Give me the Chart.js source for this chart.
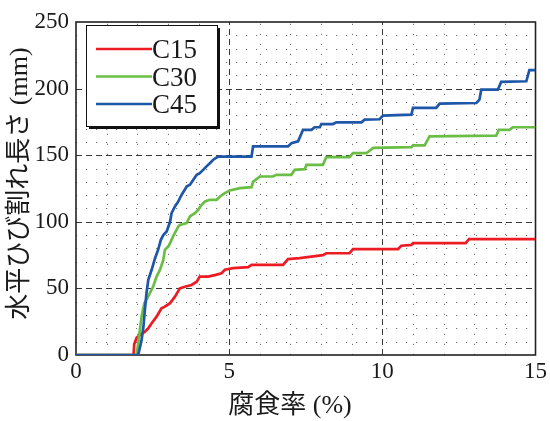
<!DOCTYPE html>
<html>
<head>
<meta charset="utf-8">
<script src="https://cdn.jsdelivr.net/npm/chart.js@4/dist/chart.umd.min.js"></script>
<style>
  html, body { margin: 0; padding: 0; background: #fff; }
  #wrap { width: 550px; height: 421px; }
</style>
</head>
<body>
<div id="wrap"><canvas id="c" width="550" height="421"></canvas></div>
<script>
// Horizontal crack length vs. corrosion rate for three concrete grades
const seriesNames = ['C15', 'C30', 'C45'];
const seriesColors = ['rgb(237,28,36)', 'rgb(106,190,69)', 'rgb(30,86,168)'];

const c15X = [0, 1.88, 1.9, 1.98, 2.09, 2.25, 2.36, 2.47, 2.63, 2.79, 2.9, 3.07, 3.23, 3.39, 3.55, 3.77, 3.94, 4.04, 4.31, 4.53, 4.75, 4.86, 5.13, 5.62, 5.73, 6.76, 6.92, 7.3, 8.06, 8.17, 8.93, 9.04, 10.51, 10.62, 10.95, 11.0, 12.72, 12.83, 15];
const c15Y = [0, 0, 8, 13, 15, 17.5, 20, 23.8, 28.8, 35, 36.3, 38.9, 43.8, 50, 51.3, 52.6, 55, 58.9, 58.9, 60, 61.4, 64, 65.2, 66, 67.7, 67.7, 72, 72.7, 75, 76.4, 76.4, 79.5, 79.5, 82, 82.7, 84, 84, 87, 87];

const c30X = [0, 1.98, 2.03, 2.14, 2.23, 2.3, 2.41, 2.52, 2.63, 2.74, 2.85, 2.9, 3.01, 3.07, 3.17, 3.34, 3.39, 3.61, 3.72, 3.88, 3.99, 4.1, 4.21, 4.37, 4.59, 4.7, 4.86, 5.02, 5.35, 5.73, 5.78, 6.0, 6.43, 6.54, 7.03, 7.14, 7.47, 7.52, 8.06, 8.17, 8.93, 9.04, 9.48, 9.7, 10.95, 11.0, 11.38, 11.54, 13.72, 13.8, 14.15, 14.26, 15];
const c30Y = [0, 0, 8.8, 28.8, 38.8, 41.4, 46.4, 51.4, 58.9, 63.9, 71.4, 78.9, 81.4, 84, 89, 96.5, 97.7, 99, 104, 106.5, 109, 112.8, 115.3, 116.5, 116.5, 119, 121.5, 123.5, 125.3, 126, 130, 134, 134, 135.3, 135.3, 139, 139.5, 142.8, 142.8, 148.5, 148.5, 151.5, 151.5, 155.5, 156, 157.4, 157.4, 164.1, 164.7, 169, 169, 171, 171];

const c45X = [0, 2.03, 2.14, 2.2, 2.25, 2.3, 2.36, 2.47, 2.58, 2.68, 2.77, 2.85, 2.96, 3.07, 3.12, 3.23, 3.34, 3.45, 3.55, 3.61, 3.72, 3.83, 3.94, 4.04, 4.15, 4.26, 4.37, 4.48, 4.64, 5.73, 5.78, 6.92, 7.03, 7.25, 7.41, 7.69, 7.79, 7.96, 8.01, 8.39, 8.5, 9.32, 9.42, 9.91, 10.02, 10.95, 11.0, 11.76, 11.87, 13.07, 13.17, 13.23, 13.77, 13.88, 14.7, 14.8, 15];
const c45Y = [0, 0, 11, 21, 34, 46.4, 56.4, 64, 72.7, 79, 86.5, 90, 92.7, 100, 106.5, 111.5, 115.3, 120.3, 124, 126.5, 127.8, 131.6, 135.3, 136.5, 139, 141.6, 144, 146.6, 149, 149, 156.6, 156.6, 159, 160.4, 169, 169, 171, 171, 173.4, 173.4, 174.7, 174.7, 176.7, 177, 179.7, 180.5, 185.5, 185.5, 188.7, 189.2, 191.7, 199.2, 199.2, 205, 205.5, 213.8, 213.8];

const xTicks = [0, 5, 10, 15];
const yTicks = [0, 50, 100, 150, 200, 250];
const xTitle = '腐食率 (%)';
const yTitle = '水平ひび割れ長さ (mm)';

const serif = "'Liberation Serif', 'Times New Roman', 'Noto Sans CJK JP', serif";
const pairs = (xs, ys) => xs.map((x, i) => ({ x, y: ys[i] }));
const seriesX = [c15X, c30X, c45X];
const seriesY = [c15Y, c30Y, c45Y];

const datasets = seriesNames.map((name, i) => ({
  label: name,
  data: pairs(seriesX[i], seriesY[i]),
  borderColor: seriesColors[i],
  backgroundColor: seriesColors[i],
  borderWidth: 2.7,
  pointRadius: 0,
  tension: 0,
  fill: false,
  order: seriesNames.length - i
}));

// Dotted minor grid, dashed major grid, axes box, legend and axis titles
const gridPlugin = {
  id: 'boxGrid',
  beforeDatasetsDraw(chart) {
    const { ctx, chartArea: a, scales: { x, y } } = chart;
    ctx.save();
    ctx.lineWidth = 1;
    // minor dotted lines
    ctx.strokeStyle = 'rgba(40,40,40,0.65)';
    ctx.setLineDash([1.2, 8.8]);
    for (let v = 1; v < 15; v++) {
      if (v % 5 === 0) continue;
      const px = Math.round(x.getPixelForValue(v)) + 0.5;
      ctx.beginPath(); ctx.moveTo(px, a.bottom); ctx.lineTo(px, a.top); ctx.stroke();
    }
    for (let v = 10; v < 250; v += 10) {
      if (v % 50 === 0) continue;
      const py = Math.round(y.getPixelForValue(v)) + 0.5;
      ctx.beginPath(); ctx.moveTo(a.left, py); ctx.lineTo(a.right, py); ctx.stroke();
    }
    // major dashed lines
    ctx.strokeStyle = 'rgba(35,35,35,0.9)';
    ctx.setLineDash([6, 4]);
    xTicks.slice(1, -1).forEach(v => {
      const px = Math.round(x.getPixelForValue(v)) + 0.5;
      ctx.beginPath(); ctx.moveTo(px, a.bottom); ctx.lineTo(px, a.top); ctx.stroke();
    });
    yTicks.slice(1, -1).forEach(v => {
      const py = Math.round(y.getPixelForValue(v)) + 0.5;
      ctx.beginPath(); ctx.moveTo(a.left, py); ctx.lineTo(a.right, py); ctx.stroke();
    });
    // box
    ctx.setLineDash([]);
    ctx.strokeStyle = '#222';
    ctx.lineWidth = 1.6;
    ctx.strokeRect(a.left, a.top, a.right - a.left, a.bottom - a.top);
    ctx.restore();
  },
  afterDatasetsDraw(chart) {
    // legend box with drop shadow in the upper-left corner of the plot
    const { ctx, chartArea: a } = chart;
    const bx = a.left + 10, by = a.top + 3, bw = 131, bh = 101;
    ctx.save();
    ctx.fillStyle = '#111';
    ctx.fillRect(bx + 3, by + 3, bw, bh);
    ctx.fillStyle = '#fff';
    ctx.fillRect(bx, by, bw, bh);
    ctx.strokeStyle = '#111';
    ctx.lineWidth = 1;
    ctx.strokeRect(bx + 0.5, by + 0.5, bw, bh);
    ctx.font = '27px ' + serif;
    ctx.textBaseline = 'middle';
    ctx.textAlign = 'left';
    chart.data.datasets.forEach((ds, i) => {
      const ly = by + 24 + i * 27.5;
      ctx.strokeStyle = ds.borderColor;
      ctx.lineWidth = 2.7;
      ctx.beginPath(); ctx.moveTo(bx + 10, ly); ctx.lineTo(bx + 66, ly); ctx.stroke();
      ctx.fillStyle = '#1a1a1a';
      ctx.fillText(ds.label, bx + 66, ly + 2);
    });
    ctx.restore();
  },
  afterDraw(chart) {
    // axis titles
    const { ctx, chartArea: a } = chart;
    ctx.save();
    ctx.fillStyle = '#1a1a1a';
    ctx.font = '26px ' + serif;
    ctx.textAlign = 'center';
    ctx.textBaseline = 'middle';
    ctx.fillText(xTitle, a.left + 214, a.bottom + 51);
    ctx.translate(a.left - 56, (a.top + a.bottom) / 2 - 5);
    ctx.rotate(-Math.PI / 2);
    ctx.fillText(yTitle, 0, 0);
    ctx.restore();
  }
};

function draw() {
  new Chart(document.getElementById('c'), {
    type: 'line',
    data: { datasets },
    options: {
      responsive: false,
      animation: false,
      layout: { padding: { left: 0, right: 14, top: 22, bottom: 0 } },
      plugins: { legend: { display: false }, tooltip: { enabled: false } },
      scales: {
        x: {
          type: 'linear',
          min: 0, max: 15,
          afterBuildTicks: s => { s.ticks = xTicks.map(v => ({ value: v })); },
          afterFit: s => { s.height = 66; },
          grid: { display: false, drawTicks: false },
          border: { display: false },
          ticks: { padding: 3, color: '#1a1a1a', font: { family: serif, size: 23 }, maxRotation: 0, autoSkip: false },
          title: { display: false }
        },
        y: {
          type: 'linear',
          min: 0, max: 250,
          afterBuildTicks: s => { s.ticks = yTicks.map(v => ({ value: v })); },
          afterFit: s => { s.width = 76; },
          grid: { display: false, drawTicks: false },
          border: { display: false },
          ticks: { padding: 7, color: '#1a1a1a', font: { family: serif, size: 23 }, autoSkip: false },
          title: { display: false }
        }
      }
    },
    plugins: [gridPlugin]
  });
}

const fontReady = document.fonts && document.fonts.load
  ? Promise.all([
      document.fonts.load("23px 'Liberation Serif'"),
      document.fonts.load("26px 'Noto Sans CJK JP'", '腐食率水平ひび割れ長さ')
    ]).catch(() => null)
  : Promise.resolve();
fontReady.then(draw);
</script>
</body>
</html>
